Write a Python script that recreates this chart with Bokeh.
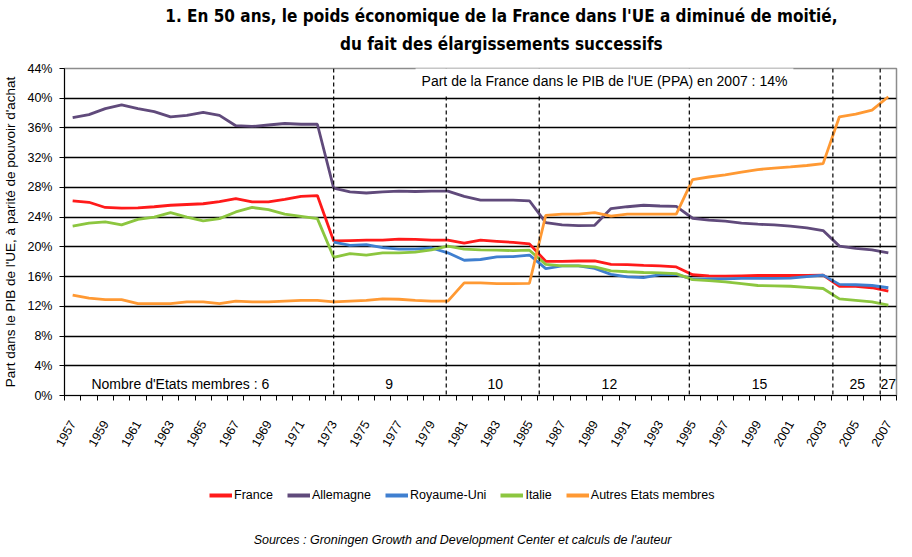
from bokeh.plotting import figure
from bokeh.models import (FixedTicker, PrintfTickFormatter, Span, Label, Legend,
                          LegendItem, Range1d)
from bokeh.layouts import column
from bokeh.embed import file_html
from bokeh.resources import INLINE
import math

nan = float("nan")
years = list(range(1957, 2008))

france = [26.2, 26.0, 25.3, 25.2, 25.25, 25.4, 25.6, 25.7, 25.8, 26.1, 26.5, 26.05, 26.05, 26.4, 26.8, 26.9,
          20.8, 20.85, 20.9, 20.9, 21.05, 21.0, 20.9, 20.9, 20.5, 20.9, 20.75, 20.6, 20.4,
          18.06, 18.05, 18.1, 18.1, 17.65, 17.6, 17.5, 17.45, 17.3,
          16.25, 16.1, 16.05, 16.1, 16.15, 16.15, 16.15, 16.15, 16.2,
          14.7, 14.7, 14.5, 14.05]
allemagne = [37.4, 37.8, 38.6, 39.1, 38.6, 38.2, 37.5, 37.7, 38.1, 37.7, 36.3, 36.2, 36.4, 36.6, 36.5, 36.5,
             27.9, 27.4, 27.25, 27.4, 27.5, 27.45, 27.5, 27.5, 26.8, 26.3, 26.3, 26.3, 26.2,
             23.25, 22.95, 22.85, 22.9, 25.15, 25.4, 25.6, 25.5, 25.45,
             23.85, 23.6, 23.45, 23.2, 23.05, 22.95, 22.8, 22.55, 22.2,
             20.1, 19.8, 19.6, 19.2]
royaume_uni = [nan] * 16 + [
    20.65, 20.2, 20.3, 19.9, 19.7, 19.7, 19.85, 19.2, 18.2, 18.3, 18.65, 18.7, 18.9,
    17.08, 17.43, 17.43, 17.1, 16.3, 15.95, 15.86, 16.27, 16.3,
    15.65, 15.7, 15.7, 15.75, 15.75, 15.75, 15.8, 16.0, 16.2,
    14.95, 14.9, 14.8, 14.5]
italie = [22.8, 23.2, 23.35, 22.95, 23.7, 24.0, 24.6, 24.0, 23.5, 23.8, 24.7, 25.3, 25.0, 24.4, 24.1, 23.8,
          18.6, 19.1, 18.9, 19.2, 19.2, 19.3, 19.6, 20.1, 19.7, 19.6, 19.55, 19.5, 19.55,
          17.65, 17.43, 17.43, 17.3, 16.76, 16.65, 16.55, 16.5, 16.4,
          15.6, 15.45, 15.3, 15.05, 14.8, 14.75, 14.7, 14.55, 14.4,
          13.0, 12.8, 12.6, 12.15]
autres = [13.5, 13.1, 12.9, 12.9, 12.35, 12.35, 12.35, 12.6, 12.6, 12.35, 12.7, 12.6, 12.6, 12.7, 12.8, 12.8,
          12.6, 12.7, 12.8, 13.0, 12.95, 12.8, 12.7, 12.7, 15.15, 15.15, 15.05, 15.05, 15.1,
          24.25, 24.4, 24.4, 24.6, 24.15, 24.4, 24.4, 24.4, 24.4,
          29.05, 29.4, 29.7, 30.05, 30.4, 30.6, 30.75, 30.95, 31.2,
          37.5, 37.85, 38.4, 40.2]

series_names = ["France", "Allemagne", "Royaume-Uni", "Italie", "Autres Etats membres"]
series_values = [france, allemagne, royaume_uni, italie, autres]
series_colors = ["#FF1A1A", "#604A7B", "#3F7FD0", "#8CC63F", "#FF9933"]

enlargements = [1973, 1979.9, 1985.6, 1994.8, 2003.6, 2006.5]
member_labels = ["Nombre d'Etats membres : 6", "9", "10", "12", "15", "25", "27"]
member_label_x = [1963.6, 1976.4, 1982.9, 1989.9, 1999.1, 2005.1, 2007.0]

y_ticks = list(range(0, 45, 4))
x_label_years = list(range(1957, 2008, 2))

title_lines = ["1. En 50 ans, le poids économique de la France dans l'UE a diminué de moitié,",
               "du fait des élargissements successifs"]
note_text = "Part de la France dans le PIB de l'UE (PPA) en 2007 : 14%"
source_text = "Sources : Groningen Growth and Development Center et calculs de l'auteur"

FONT = "Liberation Sans"
TFONT = "Liberation Sans Narrow, DejaVu Sans Condensed, Liberation Sans"
W = 898


def blank(height):
    # frames of column children are aligned with the main chart frame (page x 68..900)
    f = figure(width=W, height=height, output_backend="svg", toolbar_location=None,
               x_axis_type=None, y_axis_type=None, title=None,
               x_range=Range1d(68, 900), y_range=Range1d(0, height), min_border=0)
    f.outline_line_color = None
    f.background_fill_color = "white"
    f.border_fill_color = "white"
    return f


# ---- title block
top = blank(60)
for txt, yy in zip(title_lines, [45, 17]):
    top.add_layout(Label(x=507, y=yy, text=txt, text_align="center", text_baseline="middle",
                         text_font=TFONT, text_font_size="17px", text_font_style="bold",
                         text_color="black"))

# ---- main chart
p = figure(frame_width=832, frame_height=327, output_backend="svg", toolbar_location=None,
           title=None, x_range=Range1d(1956.5, 2007.5), y_range=Range1d(0, 44),
           min_border_left=60, min_border_right=6, min_border_top=8, min_border_bottom=60)
p.background_fill_color = "white"
p.border_fill_color = "white"
p.outline_line_color = "#8C8C8C"
p.outline_line_width = 1.5

p.yaxis.ticker = FixedTicker(ticks=y_ticks)
p.yaxis.formatter = PrintfTickFormatter(format="%d%%")
p.yaxis.major_tick_out = 5
p.yaxis.major_tick_in = 0
p.yaxis.minor_tick_line_color = None
p.yaxis.axis_line_color = "black"
p.yaxis.major_tick_line_color = "black"
p.yaxis.major_label_text_font = FONT
p.yaxis.major_label_text_font_size = "12.5px"
p.yaxis.major_label_text_color = "black"
p.yaxis.major_label_standoff = 7
p.yaxis.axis_label = "Part dans le PIB de l'UE, à parité de pouvoir d'achat"
p.yaxis.axis_label_text_font = FONT
p.yaxis.axis_label_text_font_size = "13.5px"
p.yaxis.axis_label_text_font_style = "normal"
p.yaxis.axis_label_text_color = "black"
p.yaxis.axis_label_standoff = 6

p.xaxis.ticker = FixedTicker(ticks=x_label_years,
                             minor_ticks=[y - 0.5 for y in years] + [years[-1] + 0.5])
p.xaxis.formatter = PrintfTickFormatter(format="%d")
p.xaxis.major_tick_out = 0
p.xaxis.major_tick_in = 0
p.xaxis.minor_tick_out = 5
p.xaxis.minor_tick_in = 0
p.xaxis.minor_tick_line_color = "black"
p.xaxis.axis_line_color = "black"
p.xaxis.major_label_orientation = math.radians(60)
p.xaxis.major_label_text_font = FONT
p.xaxis.major_label_text_font_size = "12.5px"
p.xaxis.major_label_text_color = "black"
p.xaxis.major_label_standoff = 21

p.xgrid.grid_line_color = None
p.ygrid.ticker = FixedTicker(ticks=y_ticks)
p.ygrid.grid_line_color = "black"
p.ygrid.grid_line_width = 1.3

for name, vals, col in zip(series_names, series_values, series_colors):
    p.line(years, vals, line_color=col, line_width=2.8)

for e in enlargements:
    p.add_layout(Span(location=e, dimension="height", line_color="black",
                      line_dash="4 3", line_width=1.2))

p.add_layout(Label(x=1989.6, y=42.3, text=note_text,
                   text_align="center", text_baseline="middle", text_font=FONT,
                   text_font_size="14px", text_color="black",
                   background_fill_color="white", padding=6))

for txt, xx in zip(member_labels, member_label_x):
    p.add_layout(Label(x=xx, y=1.6, text=txt, text_align="center", text_baseline="middle",
                       text_font=FONT, text_font_size="14px", text_color="black"))

# ---- legend + source block
bot = blank(94)
items = []
for name, col in zip(series_names, series_colors):
    r = bot.line(x=[nan], y=[nan], line_color=col, line_width=4)
    items.append(LegendItem(label=name, renderers=[r]))
legend = Legend(items=items, orientation="horizontal", location=(141, 42),
                border_line_alpha=0, background_fill_alpha=0,
                glyph_width=23, glyph_height=16, label_height=16, label_standoff=2, spacing=14,
                label_text_font=FONT, label_text_font_size="12.5px", label_text_color="black",
                margin=0, padding=4)
bot.add_layout(legend, "center")
bot.add_layout(Label(x=468, y=10, text=source_text, text_align="center", text_baseline="middle",
                     text_font=FONT, text_font_size="12.5px", text_font_style="italic",
                     text_color="black"))

layout = column(top, p, bot, spacing=0)
open("out.html", "w").write(file_html(layout, INLINE))
